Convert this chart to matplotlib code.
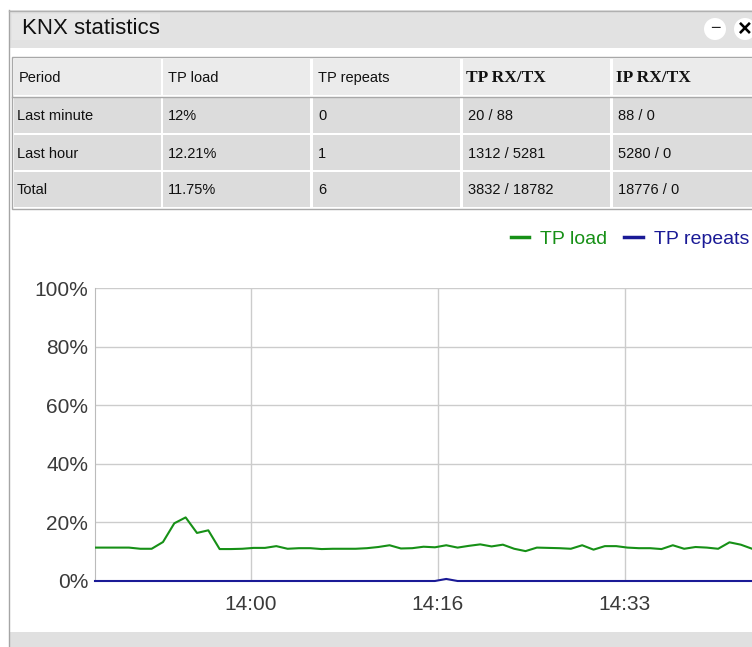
import matplotlib
matplotlib.use("Agg")
import matplotlib.pyplot as plt
from matplotlib.patches import Rectangle, Circle
from matplotlib.lines import Line2D

plt.rcParams['font.family'] = ['Liberation Sans', 'DejaVu Sans']

W, H = 752, 647

# table data
table_header = ['Period', 'TP load', 'TP repeats', 'TP RX/TX', 'IP RX/TX']
header_bold = [False, False, False, True, True]
table_rows = [
    ['Last minute', '12%', '0', '20 / 88', '88 / 0'],
    ['Last hour', '12.21%', '1', '1312 / 5281', '5280 / 0'],
    ['Total', '11.75%', '6', '3832 / 18782', '18776 / 0'],
]

# chart data, one sample per minute from 13:46
tp_load = [11.4, 11.4, 11.4, 11.4, 11.0, 11.0, 13.3, 19.7, 21.7, 16.4,
           17.3, 10.9, 10.9, 11.0, 11.3, 11.3, 11.9, 11.0, 11.2, 11.2,
           10.9, 11.0, 11.0, 11.0, 11.2, 11.6, 12.2, 11.1, 11.2, 11.7,
           11.5, 12.2, 11.4, 12.0, 12.5, 11.8, 12.4, 11.0, 10.2, 11.4,
           11.3, 11.2, 11.0, 12.2, 10.7, 11.9, 11.9, 11.4, 11.2, 11.2,
           10.9, 12.2, 11.0, 11.6, 11.4, 11.0, 13.2, 12.4, 11.0]
tp_repeats = [0.0] * 31 + [0.7] + [0.0] * 27
minutes = list(range(len(tp_load)))
tick_pos = [13.77, 30.27, 46.77]
tick_labels = ['14:00', '14:16', '14:33']
y_ticks = [0, 20, 40, 60, 80, 100]

fig = plt.figure(figsize=(W / 100, H / 100), dpi=100)
fig.patch.set_facecolor('white')

# window chrome drawn in pixel coords
bg = fig.add_axes([0, 0, 1, 1])
bg.set_xlim(0, W)
bg.set_ylim(H, 0)
bg.axis('off')

bg.add_patch(Rectangle((9, 10), W - 9, 38, facecolor='#e2e2e2', edgecolor='none'))
bg.add_patch(Rectangle((12, 14), 148, 26, facecolor='#e7e7e7', edgecolor='none'))
bg.plot([8.5, 8.5], [10, H], color='#a5a5a5', lw=1)
bg.plot([8.5, W], [10.5, 10.5], color='#b0b0b0', lw=1)
bg.text(22, 29, 'KNX statistics', fontsize=16, va='center', ha='left', color='#111111')
bg.add_patch(Circle((715, 29), 11, facecolor='white', edgecolor='none'))
bg.text(715, 29, '\u2212', fontsize=13, ha='center', va='center', color='#222222')
bg.add_patch(Circle((745, 29), 11, facecolor='white', edgecolor='none'))
bg.text(745, 29, '\u00d7', fontsize=17, ha='center', va='center', color='#000000', fontweight='bold')

# table
bg.add_patch(Rectangle((11.5, 56.5), W - 11, 152, facecolor='white', edgecolor='#a8a8a8', lw=1))
col_x = [14, 163, 313, 463, 613]
col_w = 147
row_y = [59, 98, 135, 172]
row_h = [36, 35, 35, 35]
for j, label in enumerate(table_header):
    bg.add_patch(Rectangle((col_x[j], row_y[0]), col_w, row_h[0], facecolor='#ebebeb', edgecolor='none'))
    if header_bold[j]:
        bg.text(col_x[j] + 3, row_y[0] + row_h[0] / 2 + 1, label, fontsize=12.5, fontweight='bold',
                family=['Liberation Serif', 'DejaVu Serif'], va='center', color='#111111')
    else:
        bg.text(col_x[j] + 5, row_y[0] + row_h[0] / 2 + 1, label, fontsize=10.5,
                va='center', color='#111111')
bg.plot([12, W], [96.5, 96.5], color='#a8a8a8', lw=1)
for i, row in enumerate(table_rows):
    for j, val in enumerate(row):
        bg.add_patch(Rectangle((col_x[j], row_y[i + 1]), col_w, row_h[i + 1],
                               facecolor='#dcdcdc', edgecolor='none'))
        bg.text(col_x[j] + (3 if j == 0 else 5), row_y[i + 1] + row_h[i + 1] / 2 + 1, val,
                fontsize=10.5, va='center', color='#111111')

bg.add_patch(Rectangle((9, 632), W - 9, H - 632, facecolor='#e0e0e0', edgecolor='none'))

# chart
px_per_min = 11.33
left, right, top, bottom = 95, 752, 288, 581
ax = fig.add_axes([left / W, 1 - bottom / H, (right - left) / W, (bottom - top) / H])
ax.set_facecolor('none')
green = '#169016'
navy = '#1a1a96'
ax.plot(minutes, tp_load, color=green, lw=1.5, zorder=3)
ax.plot(minutes, tp_repeats, color=navy, lw=1.5, zorder=4, clip_on=False)
ax.set_xlim(0, (right - left) / px_per_min)
ax.set_ylim(0, 100)
ax.set_yticks(y_ticks)
ax.set_yticklabels([f'{v}%' for v in y_ticks])
ax.set_xticks(tick_pos)
ax.set_xticklabels(tick_labels)
ax.tick_params(length=0, labelsize=15, colors='#3a3a3a')
ax.tick_params(axis='y', pad=5)
ax.tick_params(axis='x', pad=10)
ax.grid(True, color='#cccccc', lw=1)
for s in ['top', 'right', 'bottom']:
    ax.spines[s].set_visible(False)
ax.spines['left'].set_color('#bbbbbb')

handles = [Line2D([], [], color=green, lw=2.5), Line2D([], [], color=navy, lw=2.5)]
fig.legend(handles, ['TP load', 'TP repeats'], loc='center right',
           bbox_to_anchor=(749 / W, 1 - 239 / H), ncol=2, frameon=False,
           fontsize=14, labelcolor=[green, navy], handlelength=0.95, handletextpad=0.55,
           columnspacing=0.9, borderaxespad=0, borderpad=0)

fig.savefig('out.png', dpi=100)
